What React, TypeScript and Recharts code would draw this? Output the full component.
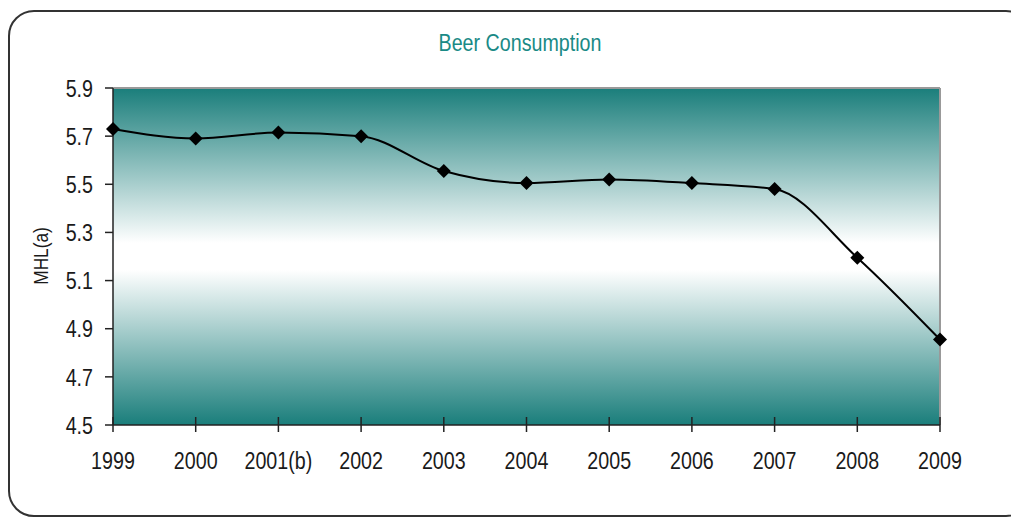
import { LineChart, Line, XAxis, YAxis, CartesianGrid, ReferenceLine } from 'recharts'

const years = ['1999', '2000', '2001(b)', '2002', '2003', '2004', '2005', '2006', '2007', '2008', '2009']
const consumption = [5.73, 5.69, 5.715, 5.70, 5.555, 5.505, 5.52, 5.505, 5.48, 5.195, 4.855]
const yTicks = [4.5, 4.7, 4.9, 5.1, 5.3, 5.5, 5.7, 5.9]

const data = years.map((year, i) => ({ year, value: consumption[i] }))

const FONT = '"Liberation Sans", Arial, sans-serif'
const TEAL = '#1a7e7b'
const NARROW = 0.82

function Diamond(props: any) {
  const { cx, cy } = props
  if (cx == null || cy == null) return null
  const r = 7
  return (
    <polygon
      points={`${cx},${cy - r} ${cx + r},${cy} ${cx},${cy + r} ${cx - r},${cy}`}
      fill="#000"
    />
  )
}

function XTick(props: any) {
  const { x, y, payload } = props
  return (
    <g>
      <line x1={x} x2={x} y1={y - 8} y2={y + 7} stroke="#222" strokeWidth={1.5} />
      <text
        transform={`translate(${x},${y + 44}) scale(${NARROW},1)`}
        textAnchor="middle"
        fontSize={24}
        fill="#1a1a1a"
        fontFamily={FONT}
      >
        {payload.value}
      </text>
    </g>
  )
}

function YTick(props: any) {
  const { x, y, payload } = props
  return (
    <text
      transform={`translate(${x},${y}) scale(${NARROW},1)`}
      textAnchor="end"
      dy="0.36em"
      fontSize={24}
      fill="#1a1a1a"
      fontFamily={FONT}
    >
      {Number(payload.value).toFixed(1)}
    </text>
  )
}

export default function App() {
  return (
    <div style={{ position: 'absolute', left: 0, top: 0, width: 1011, height: 518, overflow: 'hidden', background: '#fff' }}>
      <div
        style={{
          position: 'absolute',
          left: 8,
          top: 10,
          width: 1020,
          height: 503,
          border: '2px solid #333',
          borderRadius: 26,
        }}
      />
      <div style={{ position: 'absolute', left: 0, top: 0 }}>
        <LineChart width={1011} height={518} data={data} margin={{ top: 88, right: 71, bottom: 0, left: 0 }}>
          <defs>
            <linearGradient id="bg" x1="0" y1="0" x2="0" y2="1">
              <stop offset="0" stopColor={TEAL} />
              <stop offset="0.46" stopColor="#ffffff" />
              <stop offset="0.54" stopColor="#ffffff" />
              <stop offset="1" stopColor={TEAL} />
            </linearGradient>
          </defs>
          <text
            transform={`translate(520,51) scale(${NARROW},1)`}
            textAnchor="middle"
            fontSize={24}
            fill="#1a8a86"
            fontFamily={FONT}
          >
            Beer Consumption
          </text>
          <text
            transform={`translate(48,256) rotate(-90) scale(${NARROW},1)`}
            textAnchor="middle"
            fontSize={21}
            fill="#1a1a1a"
            fontFamily={FONT}
          >
            MHL(a)
          </text>
          <CartesianGrid fill="url(#bg)" stroke="none" horizontal={false} vertical={false} />
          <XAxis
            dataKey="year"
            tick={<XTick />}
            tickLine={false}
            tickSize={0}
            tickMargin={0}
            axisLine={{ stroke: '#222', strokeWidth: 1.5 }}
            interval={0}
            height={93}
          />
          <YAxis
            domain={[4.5, 5.9]}
            ticks={yTicks}
            tick={<YTick />}
            tickSize={8}
            tickMargin={12}
            tickLine={{ stroke: '#222', strokeWidth: 1.5 }}
            axisLine={{ stroke: '#222', strokeWidth: 1.5 }}
            width={113}
            interval={0}
          />
          <ReferenceLine y={5.9} stroke="#999" strokeWidth={2} />
          <ReferenceLine x="2009" stroke="#999" strokeWidth={2} />
          <Line
            type="monotone"
            dataKey="value"
            stroke="#000"
            strokeWidth={2}
            dot={<Diamond />}
            activeDot={false}
            isAnimationActive={false}
          />
        </LineChart>
      </div>
    </div>
  )
}
